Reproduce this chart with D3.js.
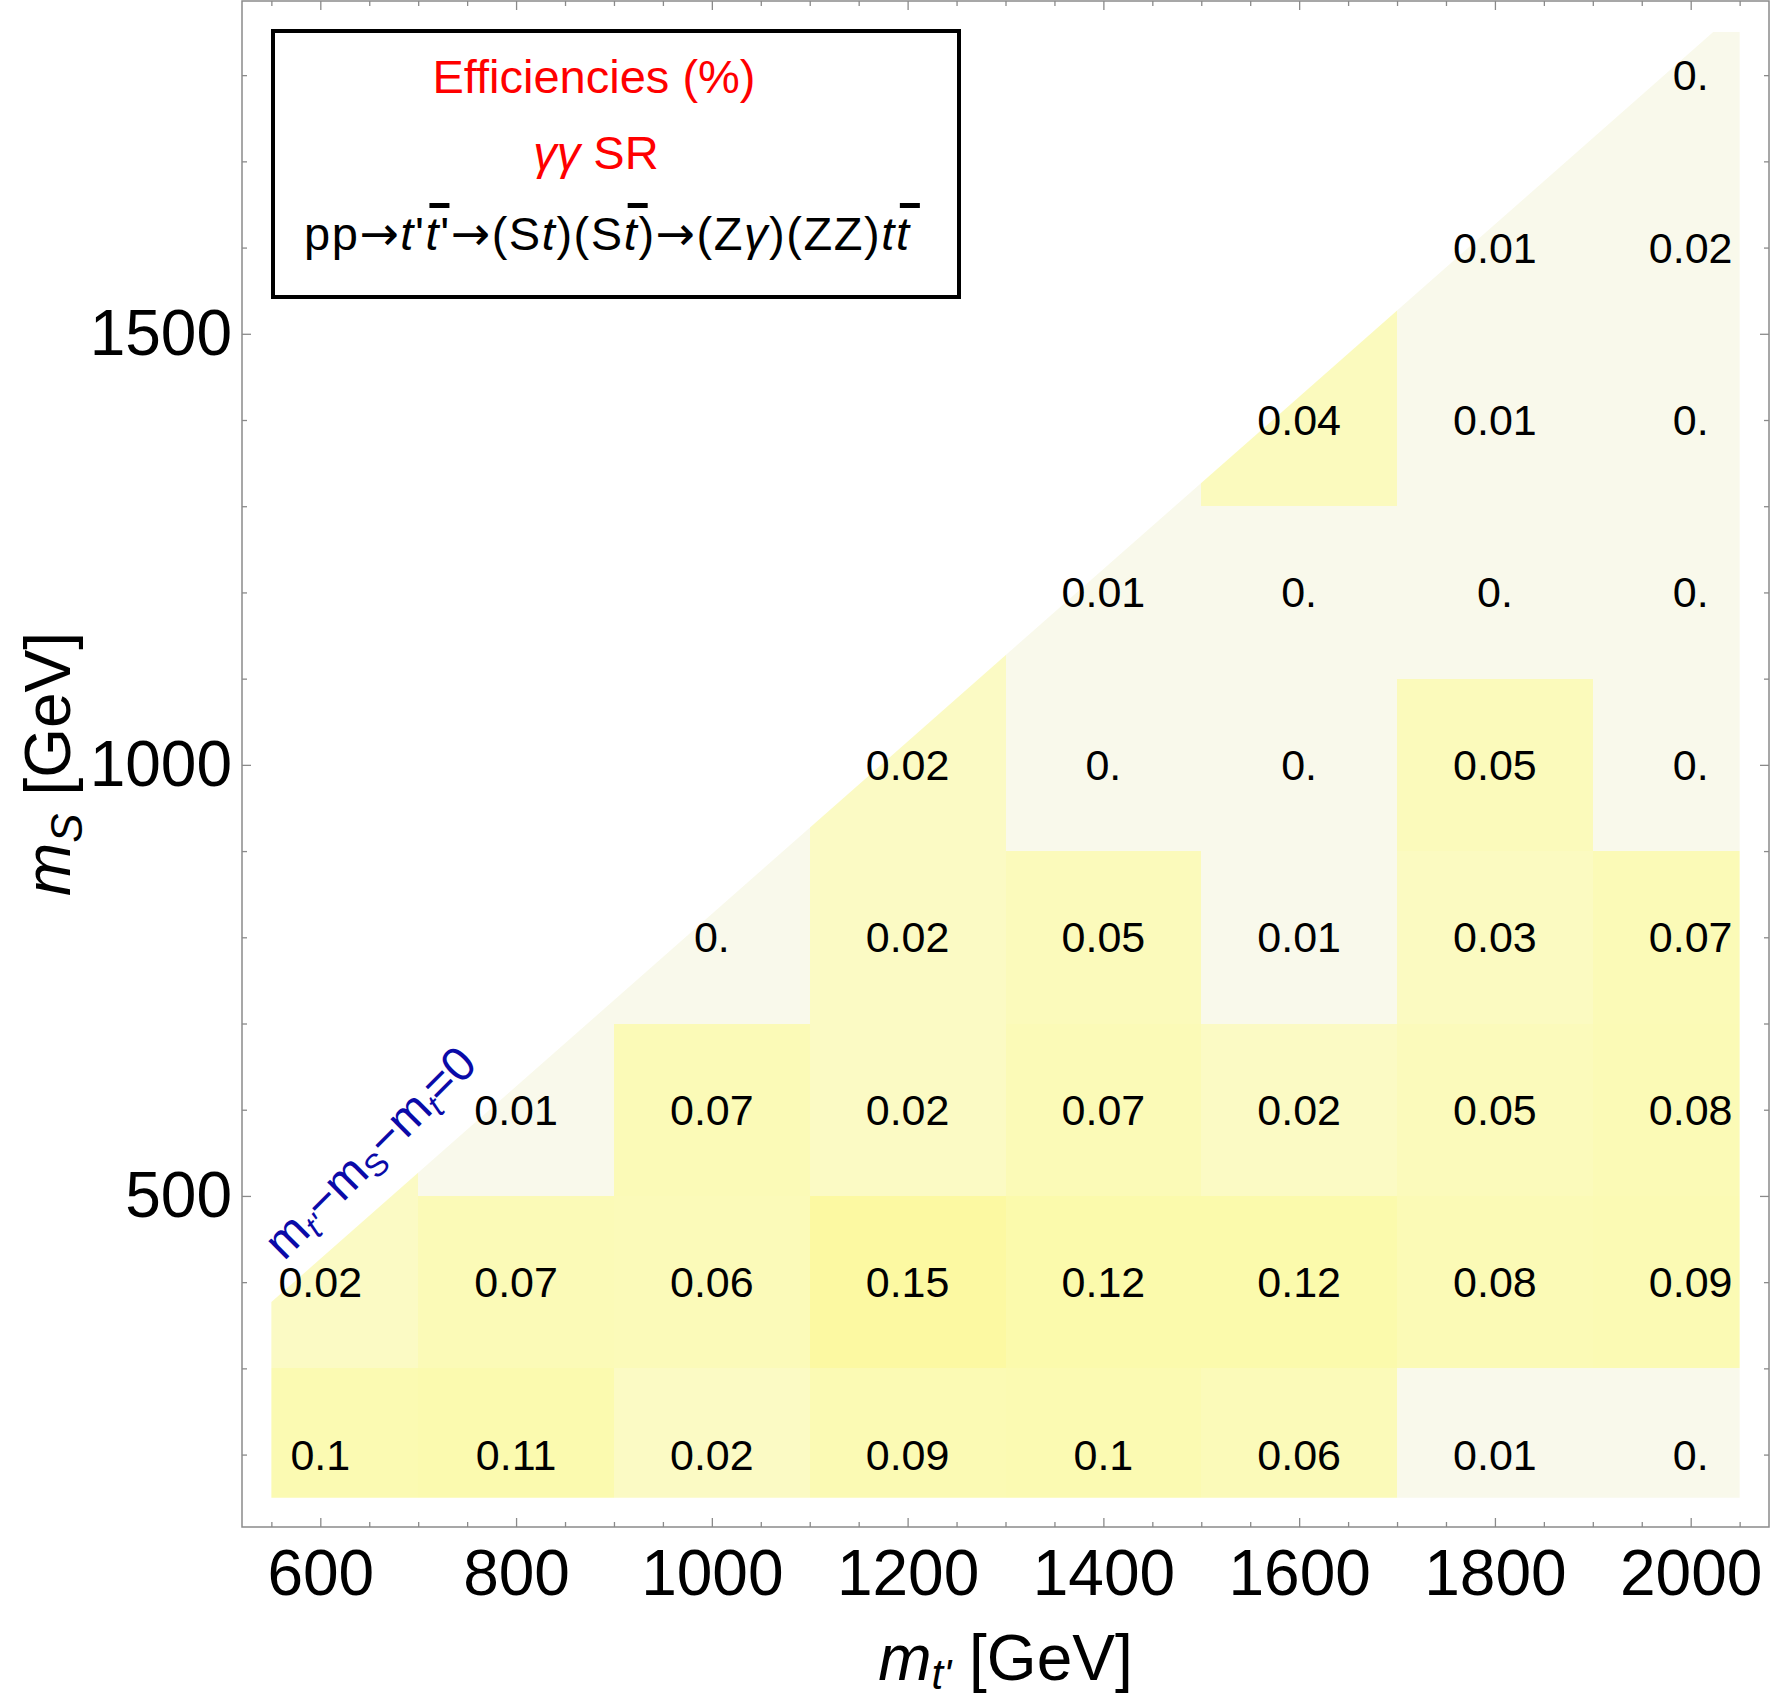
<!doctype html>
<html>
<head>
<meta charset="utf-8">
<title>Efficiencies - gamma gamma SR</title>
<script src="https://cdn.jsdelivr.net/npm/d3@7"></script>
<style>
  body { margin: 0; background: #fff; }
  svg text { font-family: "Liberation Sans", Arial, Helvetica, sans-serif; }
</style>
</head>
<body>
<div id="chart"></div>
<script>
// grid of masses (GeV)
const mTprime = [600, 800, 1000, 1200, 1400, 1600, 1800, 2000];
const mS = [200, 400, 600, 800, 1000, 1200, 1400, 1600, 1800];

// efficiencies (%) for each m_S row, in mTprime order; null = no point
const eff200  = [0.1, 0.11, 0.02, 0.09, 0.1, 0.06, 0.01, 0];
const eff400  = [0.02, 0.07, 0.06, 0.15, 0.12, 0.12, 0.08, 0.09];
const eff600  = [null, 0.01, 0.07, 0.02, 0.07, 0.02, 0.05, 0.08];
const eff800  = [null, null, 0, 0.02, 0.05, 0.01, 0.03, 0.07];
const eff1000 = [null, null, null, 0.02, 0, 0, 0.05, 0];
const eff1200 = [null, null, null, null, 0.01, 0, 0, 0];
const eff1400 = [null, null, null, null, null, 0.04, 0.01, 0];
const eff1600 = [null, null, null, null, null, null, 0.01, 0.016];
const eff1800 = [null, null, null, null, null, null, null, 0];

const xTicks = [600, 800, 1000, 1200, 1400, 1600, 1800, 2000];
const yTicks = [500, 1000, 1500];
const mTop = 173;

const effRows = [eff200, eff400, eff600, eff800, eff1000, eff1200, eff1400, eff1600, eff1800];

const W = 1771, H = 1698;
const x = d3.scaleLinear().domain([520, 2080]).range([242, 1769]);
const y = d3.scaleLinear().domain([116, 1886]).range([1527, 1]);

const shade = d3.scaleLinear()
    .domain([0, 0.016, 0.02, 0.05, 0.1, 0.15])
    .range(["#f9f9eb", "#f9f9eb", "#fbfac4", "#fbfabb", "#fbfab2", "#fcf9a2"]);

const fmt = v => {
    const r = Math.round(v * 100) / 100;
    return r === 0 ? "0." : String(r);
};

// cell edges half way between grid points, a quarter step past the ends
function edges(a) {
    const e = [a[0] - (a[1] - a[0]) / 4];
    for (let i = 1; i < a.length; i++) e.push((a[i - 1] + a[i]) / 2);
    e.push(a[a.length - 1] + (a[a.length - 1] - a[a.length - 2]) / 4);
    return e;
}
const xE = edges(mTprime);
const yE = edges(mS);

const cells = [];
effRows.forEach((row, j) => row.forEach((v, i) => {
    if (v !== null) cells.push({ i, j, v });
}));
const topRow = mTprime.map((_, i) => d3.max(cells.filter(c => c.i === i), c => c.j));

const svg = d3.select("#chart").append("svg")
    .attr("width", W)
    .attr("height", H);

// region allowed by m_t' - m_S - m_t > 0
const xa = xE[0], xb = xE[xE.length - 1], ya = yE[0], yb = yE[yE.length - 1];
const clipPts = [[xa, ya], [xb, ya], [xb, yb], [yb + mTop, yb], [xa, xa - mTop]];
svg.append("clipPath").attr("id", "kin")
    .append("polygon")
    .attr("points", clipPts.map(p => x(p[0]) + "," + y(p[1])).join(" "));

svg.append("g")
    .attr("clip-path", "url(#kin)")
    .selectAll("rect")
    .data(cells)
    .enter()
    .append("rect")
    .attr("x", d => x(xE[d.i]))
    .attr("y", d => y(d.j === topRow[d.i] ? yb : yE[d.j + 1]))
    .attr("width", d => x(xE[d.i + 1]) - x(xE[d.i]))
    .attr("height", d => y(yE[d.j]) - y(d.j === topRow[d.i] ? yb : yE[d.j + 1]))
    .attr("fill", d => shade(d.v))
    .attr("shape-rendering", "crispEdges");

svg.append("g")
    .selectAll("text")
    .data(cells)
    .enter()
    .append("text")
    .attr("x", d => x(mTprime[d.i]))
    .attr("y", d => y(mS[d.j]))
    .attr("dy", "0.35em")
    .attr("text-anchor", "middle")
    .attr("font-size", 43)
    .text(d => fmt(d.v));

// frame and ticks
const gray = "#8a8a8a";
const [px0, px1] = x.range();
const [py1, py0] = y.range();

function styleAxis(g) {
    g.select(".domain").remove();
    g.selectAll("line").attr("stroke", gray).attr("stroke-width", 1.3);
    g.selectAll("text").attr("fill", "#000").attr("font-size", 64)
        .attr("font-family", '"Liberation Sans", Arial, sans-serif');
}
const xMinor = d3.range(550, 2051, 50).filter(v => !xTicks.includes(v));
const yMinor = d3.range(200, 1801, 100).filter(v => !yTicks.includes(v));

svg.append("g").attr("transform", `translate(0,${py1})`)
    .call(d3.axisBottom(x).tickValues(xTicks).tickSizeInner(-9).tickSizeOuter(0)
        .tickPadding(23).tickFormat(d3.format("d")))
    .call(styleAxis);
svg.append("g").attr("transform", `translate(0,${py1})`)
    .call(d3.axisBottom(x).tickValues(xMinor).tickSizeInner(-5).tickSizeOuter(0).tickFormat(""))
    .call(styleAxis);
svg.append("g").attr("transform", `translate(0,${py0})`)
    .call(d3.axisTop(x).tickValues(xTicks).tickSizeInner(-9).tickSizeOuter(0).tickFormat(""))
    .call(styleAxis);
svg.append("g").attr("transform", `translate(0,${py0})`)
    .call(d3.axisTop(x).tickValues(xMinor).tickSizeInner(-5).tickSizeOuter(0).tickFormat(""))
    .call(styleAxis);
svg.append("g").attr("transform", `translate(${px0},0)`)
    .call(d3.axisLeft(y).tickValues(yTicks).tickSizeInner(-9).tickSizeOuter(0)
        .tickPadding(10).tickFormat(d3.format("d")))
    .call(styleAxis);
svg.append("g").attr("transform", `translate(${px0},0)`)
    .call(d3.axisLeft(y).tickValues(yMinor).tickSizeInner(-5).tickSizeOuter(0).tickFormat(""))
    .call(styleAxis);
svg.append("g").attr("transform", `translate(${px1},0)`)
    .call(d3.axisRight(y).tickValues(yTicks).tickSizeInner(-9).tickSizeOuter(0).tickFormat(""))
    .call(styleAxis);
svg.append("g").attr("transform", `translate(${px1},0)`)
    .call(d3.axisRight(y).tickValues(yMinor).tickSizeInner(-5).tickSizeOuter(0).tickFormat(""))
    .call(styleAxis);

svg.append("rect")
    .attr("x", px0).attr("y", py0)
    .attr("width", px1 - px0).attr("height", py1 - py0)
    .attr("fill", "none").attr("stroke", gray).attr("stroke-width", 1.5);

// axis titles
const xTitle = svg.append("text")
    .attr("x", (px0 + px1) / 2).attr("y", 1680)
    .attr("text-anchor", "middle").attr("font-size", 64);
xTitle.append("tspan").attr("font-style", "italic").text("m");
xTitle.append("tspan").attr("font-style", "italic").attr("font-size", 42).attr("dy", 9).text("t'");
xTitle.append("tspan").attr("dy", -9).text(" [GeV]");

const yTitle = svg.append("text")
    .attr("transform", `translate(70,${(py0 + py1) / 2}) rotate(-90)`)
    .attr("text-anchor", "middle").attr("font-size", 64);
yTitle.append("tspan").attr("font-style", "italic").text("m");
yTitle.append("tspan").attr("font-style", "italic").attr("font-size", 44).attr("dy", 12).text("S");
yTitle.append("tspan").attr("dy", -12).text(" [GeV]");

// kinematic boundary label
const diag = svg.append("text")
    .attr("transform", `translate(${x(563)},${y(424)}) rotate(-45)`)
    .attr("fill", "#0a0aa8").attr("font-size", 48);
diag.append("tspan").text("m");
diag.append("tspan").attr("font-style", "italic").attr("font-size", 32).attr("dy", 8).text("t'");
diag.append("tspan").attr("dy", -8).text("\u2212m");
diag.append("tspan").attr("font-size", 32).attr("dy", 8).text("S");
diag.append("tspan").attr("dy", -8).text("\u2212m");
diag.append("tspan").attr("font-style", "italic").attr("font-size", 32).attr("dy", 8).text("t");
diag.append("tspan").attr("dy", -8).text("=0");

// legend box
svg.append("rect")
    .attr("x", 273).attr("y", 31).attr("width", 686).attr("height", 266)
    .attr("fill", "#fff").attr("stroke", "#000").attr("stroke-width", 4);

svg.append("text")
    .attr("x", 594).attr("y", 93).attr("text-anchor", "middle")
    .attr("font-size", 47).attr("fill", "#ff0000")
    .text("Efficiencies (%)");

const sr = svg.append("text")
    .attr("x", 596).attr("y", 169).attr("text-anchor", "middle")
    .attr("font-size", 47).attr("fill", "#ff0000");
sr.append("tspan").attr("font-style", "italic").text("\u03b3\u03b3");
sr.append("tspan").text(" SR");

const procParts = [
    { s: "pp" }, { s: "\u2192", arrow: true },
    { s: "t", it: true }, { s: "'" }, { s: "t", it: true, bar: true }, { s: "'" },
    { s: "\u2192", arrow: true }, { s: "(S" }, { s: "t", it: true }, { s: ")(S" },
    { s: "t", it: true, bar: true }, { s: ")" }, { s: "\u2192", arrow: true }, { s: "(Z" },
    { s: "\u03b3", it: true }, { s: ")(ZZ)" },
    { s: "t", it: true }, { s: "t", it: true, bar: true }
];
const procSize = 47;
const procY = 250;
const proc = svg.append("text")
    .attr("x", 304).attr("y", procY)
    .attr("font-size", procSize).attr("fill", "#000")
    .attr("textLength", 605).attr("lengthAdjust", "spacing");
procParts.forEach(p => {
    proc.append("tspan")
        .attr("font-style", p.it ? "italic" : null)
        .attr("font-family", p.arrow ? '"DejaVu Sans", sans-serif' : null)
        .text(p.s);
});
// bars over the antiquarks
let idx = 0;
const procNode = proc.node();
procParts.forEach(p => {
    if (p.bar) {
        const e = procNode.getExtentOfChar(idx);
        svg.append("rect")
            .attr("x", e.x + e.width * 0.3)
            .attr("y", procY - procSize * 1.0)
            .attr("width", 20)
            .attr("height", 5)
            .attr("fill", "#000");
    }
    idx += p.s.length;
});
</script>
</body>
</html>
